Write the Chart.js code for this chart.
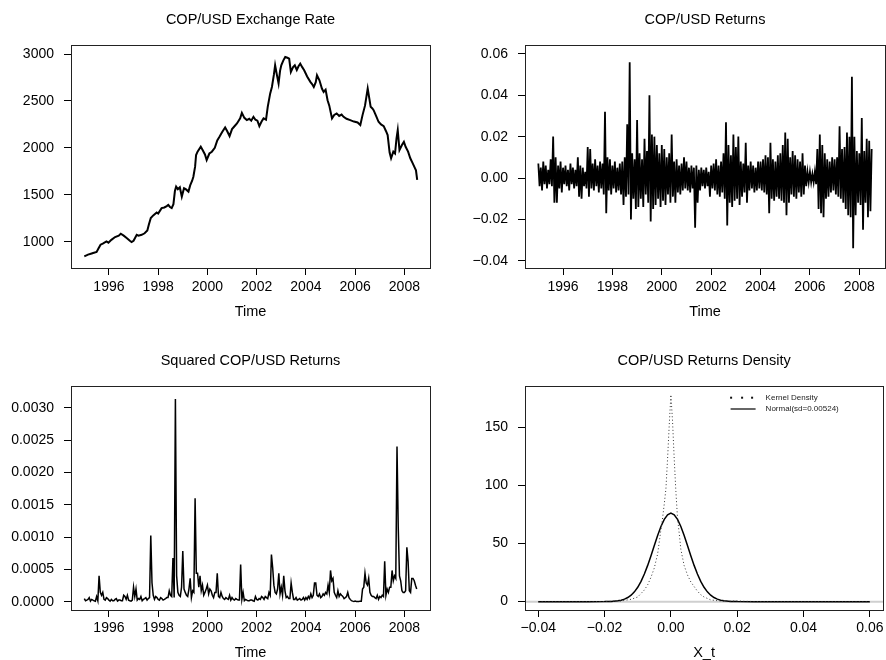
<!DOCTYPE html>
<html>
<head>
<meta charset="utf-8">
<script src="https://cdn.jsdelivr.net/npm/chart.js@4.4.0/dist/chart.umd.min.js"></script>
<style>
  html, body { margin: 0; padding: 0; background: #fff; overflow: hidden; }
  #wrap { position: relative; width: 886px; height: 660px; }
  canvas { position: absolute; }
</style>
</head>
<body>
<div id="wrap">
  <canvas id="rate" width="443" height="330" style="left:0;top:0"></canvas>
  <canvas id="ret" width="443" height="330" style="left:443px;top:0"></canvas>
  <canvas id="sq" width="443" height="330" style="left:0;top:330px"></canvas>
  <canvas id="dens" width="443" height="330" style="left:443px;top:330px"></canvas>
</div>
<script>
// exchange rate, COP per USD
const rateYears = [
  1995.00, 1995.15, 1995.30, 1995.36, 1995.50, 1995.58, 1995.66, 1995.75, 1995.90, 1995.98,
  1996.10, 1996.25, 1996.40, 1996.48, 1996.60, 1996.72, 1996.85, 1996.92, 1997.00, 1997.13,
  1997.20, 1997.33, 1997.45, 1997.56, 1997.62, 1997.70, 1997.80, 1997.94, 1998.00, 1998.14,
  1998.25, 1998.35, 1998.41, 1998.48, 1998.55, 1998.62, 1998.68, 1998.73, 1998.80, 1998.88,
  1998.96, 1999.05, 1999.12, 1999.23, 1999.30, 1999.38, 1999.43, 1999.50, 1999.54, 1999.60,
  1999.73, 1999.80, 1999.90, 1999.97, 2000.08, 2000.18, 2000.30, 2000.40, 2000.49, 2000.60,
  2000.72, 2000.80, 2000.90, 2001.00, 2001.10, 2001.20, 2001.33, 2001.40, 2001.50, 2001.60,
  2001.70, 2001.78, 2001.87, 2001.95, 2002.03, 2002.11, 2002.20, 2002.28, 2002.38, 2002.45,
  2002.55, 2002.62, 2002.70, 2002.75, 2002.82, 2002.89, 2002.95, 2003.00, 2003.08, 2003.16,
  2003.25, 2003.32, 2003.39, 2003.48, 2003.55, 2003.63, 2003.70, 2003.77, 2003.85, 2003.93,
  2004.05, 2004.18, 2004.25, 2004.32, 2004.40, 2004.45, 2004.55, 2004.65, 2004.72, 2004.80,
  2004.88, 2004.95, 2005.06, 2005.15, 2005.25, 2005.35, 2005.45, 2005.53, 2005.65, 2005.80,
  2005.95, 2006.10, 2006.21, 2006.30, 2006.40, 2006.51, 2006.58, 2006.63, 2006.70, 2006.75,
  2006.85, 2006.95, 2007.05, 2007.16, 2007.25, 2007.32, 2007.40, 2007.46, 2007.55, 2007.62,
  2007.68, 2007.73, 2007.80, 2007.90, 2007.98, 2008.05, 2008.15, 2008.24, 2008.33, 2008.40,
  2008.47, 2008.52
]
const rateValues = [
  844, 862, 875, 880, 891, 930, 968, 980, 1003, 990,
  1020, 1050, 1065, 1085, 1065, 1039, 1010, 997, 1010, 1074,
  1065, 1074, 1090, 1120, 1180, 1252, 1280, 1311, 1300, 1358,
  1365, 1380, 1393, 1370, 1358, 1400, 1540, 1587, 1560, 1580,
  1481, 1570, 1560, 1534, 1600, 1650, 1693, 1800, 1924, 1960,
  2012, 1980, 1930, 1871, 1940, 1959, 2000, 2080, 2118, 2170,
  2218, 2180, 2126, 2200, 2230, 2260, 2314, 2373, 2320, 2296,
  2310, 2290, 2331, 2300, 2290, 2232, 2280, 2314, 2300, 2437,
  2580, 2649, 2780, 2880, 2780, 2685, 2820, 2880, 2930, 2968,
  2960, 2951, 2809, 2860, 2880, 2830, 2870, 2898, 2860, 2827,
  2760, 2703, 2680, 2649, 2700, 2774, 2720, 2632, 2596, 2620,
  2508, 2450, 2314, 2350, 2367, 2340, 2355, 2331, 2310, 2296,
  2280, 2270, 2243, 2349, 2450, 2632, 2520, 2437, 2420, 2402,
  2340, 2278, 2250, 2232, 2180, 2136, 1950, 1889, 1959, 1940,
  2100, 2189, 1977, 2030, 2065, 2012, 1960, 1889, 1840, 1800,
  1760, 1659
]

// returns, sampled every 0.05 year from 1995.0
const retStart = 1995.0
const retStep = 0.05
const returns = [
  .007,-.004,.005,-.006,.008,-.003,.006,-.005,.004,-.003,.009,-.004,.020,-.012,.010,-.012,.006,-.005,.008,-.007,
  .005,-.003,.006,-.004,.004,-.006,.007,-.003,.005,-.005,.004,-.004,.010,-.009,.006,-.010,.005,-.004,.003,-.005,
  .015,-.009,.014,-.005,.007,-.006,.009,-.004,.006,-.007,.008,-.005,.007,-.008,.032,-.017,.010,-.006,.009,-.008,
  .006,-.005,.008,-.007,.005,-.006,.007,-.008,.008,-.013,.010,-.009,.026,-.008,.056,-.020,.012,-.010,.009,-.015,
  .028,-.014,.012,-.010,.009,-.014,.019,-.008,.013,-.012,.040,-.021,.021,-.015,.020,-.013,.016,-.010,.012,-.014,
  .016,-.011,.014,-.013,.010,-.008,.012,-.012,.021,-.009,.008,-.012,.009,-.007,.006,-.008,.007,-.006,.010,-.005,
  .008,-.006,.005,-.007,.006,-.005,.005,-.024,.006,-.012,.004,-.006,.005,-.004,.004,-.005,.005,-.004,.003,-.009,
  .006,-.005,.007,-.006,.009,-.008,.006,-.009,.008,-.007,.012,-.010,.027,-.023,.016,-.012,.011,-.014,.021,-.011,
  .015,-.010,.020,-.013,.008,-.009,.007,-.007,.017,-.012,.006,-.006,.008,-.005,.006,-.007,.005,-.006,.008,-.005,
  .008,-.006,.009,-.007,.011,-.008,.010,-.017,.017,-.010,.009,-.011,.008,-.009,.011,-.010,.012,-.011,.016,-.012,
  .022,-.018,.019,-.012,.010,-.008,.013,-.009,.011,-.010,.009,-.007,.008,-.009,.012,-.008,.006,-.004,.003,-.002,
  .003,-.002,.002,-.002,.003,-.003,.014,-.015,.021,-.017,.016,-.019,.012,-.010,.009,-.009,.008,-.007,.010,-.006,
  .009,-.008,.010,-.009,.025,-.010,.014,-.012,.015,-.015,.022,-.018,.020,-.019,.049,-.034,.020,-.018,.013,-.012,
  .012,-.013,.029,-.025,.013,-.012,.019,-.019,.018,-.016,.014
]

// density estimates of the returns
const kdeX = [-0.04, -0.03, -0.02, -0.015, -0.012, -0.010, -0.009, -0.008, -0.007, -0.006, -0.005, -0.004,
  -0.003, -0.0025, -0.002, -0.0015, -0.001, -0.0005, 0, 0.0005, 0.001, 0.0015, 0.002, 0.0025, 0.003,
  0.004, 0.005, 0.006, 0.007, 0.008, 0.009, 0.010, 0.012, 0.015, 0.018, 0.020, 0.022, 0.025, 0.03, 0.06]
const kdeY = [0, 0, 0.1, 0.6, 2, 4, 7, 10, 14.5, 21, 29, 41,
  62, 72, 84, 97, 123, 152, 178, 155, 123, 95, 72, 59, 45,
  31, 23, 17, 13, 9, 6, 4, 1.5, 0.5, 0.4, 0.6, 0.3, 0.1, 0, 0]

// normal density, mean 0, sd 0.00524
const normX = [-0.04, -0.03, -0.025, -0.02, -0.018, -0.016, -0.015, -0.014, -0.013, -0.012, -0.011,
  -0.010, -0.009, -0.008, -0.007, -0.006, -0.005, -0.004, -0.003, -0.002, -0.001, 0,
  0.001, 0.002, 0.003, 0.004, 0.005, 0.006, 0.007, 0.008, 0.009, 0.010,
  0.011, 0.012, 0.013, 0.014, 0.015, 0.016, 0.018, 0.02, 0.025, 0.03, 0.06]
const normY = [0, 0, 0, 0.05, 0.21, 0.72, 1.27, 2.15, 3.51, 5.53, 8.40,
  12.32, 17.42, 23.74, 31.19, 39.52, 48.29, 56.89, 64.62, 70.78, 74.76, 76.13,
  74.76, 70.78, 64.62, 56.89, 48.29, 39.52, 31.19, 23.74, 17.42, 12.32,
  8.40, 5.53, 3.51, 2.15, 1.27, 0.72, 0.21, 0.05, 0, 0, 0]

const yearTicks = [1996, 1998, 2000, 2002, 2004, 2006, 2008]
const rateTicks = [1000, 1500, 2000, 2500, 3000]
const retTicks = [-0.04, -0.02, 0, 0.02, 0.04, 0.06]
const sqTicks = [0, 0.0005, 0.001, 0.0015, 0.002, 0.0025, 0.003]
const densXTicks = [-0.04, -0.02, 0, 0.02, 0.04, 0.06]
const densYTicks = [0, 50, 100, 150]

const FONT = "'Liberation Sans', Arial, Helvetica, sans-serif"
const W = 443, H = 330

const minus = (v, d) => (v < 0 ? "\u2212" : "") + Math.abs(v).toFixed(d)

// box round the plot region
const frame = {
  id: "frame",
  afterDraw(chart) {
    const { ctx, chartArea: a } = chart
    ctx.save()
    ctx.strokeStyle = "#222"
    ctx.lineWidth = 1
    ctx.strokeRect(Math.round(a.left) + 0.5, Math.round(a.top) + 0.5, Math.round(a.width), Math.round(a.height))
    ctx.restore()
  }
}

// main title centred over the plot region
const panelTitle = {
  id: "panelTitle",
  afterDraw(chart, args, opts) {
    const { ctx, chartArea: a } = chart
    ctx.save()
    ctx.font = "14.5px " + FONT
    ctx.fillStyle = "#000"
    ctx.textAlign = "center"
    ctx.textBaseline = "middle"
    ctx.fillText(opts.text, (a.left + a.right) / 2, opts.y)
    ctx.restore()
  }
}

function axis(o, horizontal, box) {
  return {
    type: "linear",
    min: o.min,
    max: o.max,
    afterBuildTicks: s => { s.ticks = o.ticks.map(v => ({ value: v })) },
    afterFit: s => {
      if (horizontal) s.height = H - box.bottom
      else s.width = box.left
    },
    grid: { drawOnChartArea: false, drawTicks: true, tickLength: 7, color: "#000", lineWidth: 1 },
    border: { display: false },
    ticks: {
      color: "#000",
      font: { family: FONT, size: 14 },
      padding: o.pad,
      maxRotation: 0,
      autoSkip: false,
      callback: o.fmt
    },
    title: o.title ? {
      display: true,
      text: o.title,
      color: "#000",
      font: { family: FONT, size: 14.5 },
      padding: { top: 0, bottom: o.titlePad }
    } : { display: false }
  }
}

function panel(id, box, title, datasets, x, y, extra) {
  return new Chart(document.getElementById(id), {
    type: "line",
    data: { datasets },
    options: {
      responsive: false,
      animation: false,
      events: [],
      layout: { padding: { left: 0, top: box.top, right: W - box.right, bottom: 0 } },
      plugins: {
        legend: { display: false },
        tooltip: { enabled: false },
        panelTitle: title
      },
      scales: { x: axis(x, true, box), y: axis(y, false, box) }
    },
    plugins: [frame, panelTitle].concat(extra || [])
  })
}

const retTime = returns.map((r, i) => retStart + i * retStep)
const line = (xs, ys, w) => ({
  data: xs.map((t, i) => ({ x: t, y: ys[i] })),
  borderColor: "#000",
  borderWidth: w,
  pointRadius: 0,
  tension: 0
})

const timeAxis = (pad, titlePad) => ({
  min: 1994.46, max: 2009.04, ticks: yearTicks, fmt: v => String(v),
  pad, title: "Time", titlePad
})

// top left: exchange rate
panel("rate", { left: 71, right: 430, top: 45, bottom: 268 },
  { text: "COP/USD Exchange Rate", y: 20 },
  [line(rateYears, rateValues, 2)],
  timeAxis(4, 9),
  { min: 720, max: 3096, ticks: rateTicks, fmt: v => String(v), pad: 10 })

// top right: returns
panel("ret", { left: 82, right: 442, top: 45, bottom: 268 },
  { text: "COP/USD Returns", y: 20 },
  [line(retTime, returns, 1.8)],
  timeAxis(4, 9),
  { min: -0.0435, max: 0.0643, ticks: retTicks, fmt: v => minus(v, 2), pad: 10 })

// bottom left: squared returns
panel("sq", { left: 71, right: 430, top: 56, bottom: 280 },
  { text: "Squared COP/USD Returns", y: 30.7 },
  [line(retTime, returns.map(r => r * r), 1.5)],
  timeAxis(2.5, -1.4),
  { min: -0.000128, max: 0.003337, ticks: sqTicks, fmt: v => v.toFixed(4), pad: 10 })

// grey zero line under the densities
const zeroLine = {
  id: "zeroLine",
  beforeDatasetsDraw(chart) {
    const { ctx, chartArea: a, scales } = chart
    const y0 = scales.y.getPixelForValue(0)
    ctx.save()
    ctx.strokeStyle = "#cfcfcf"
    ctx.lineWidth = 2
    ctx.beginPath()
    ctx.moveTo(a.left, y0)
    ctx.lineTo(a.right, y0)
    ctx.stroke()
    ctx.restore()
  }
}

// legend in the top right corner, no box
const densLegend = {
  id: "densLegend",
  afterDraw(chart) {
    const { ctx, chartArea: a } = chart
    const x0 = a.right - 152
    const y1 = a.top + 11.7
    const y2 = a.top + 23
    ctx.save()
    ctx.fillStyle = "#111"
    ;[0, 11, 21].forEach(dx => ctx.fillRect(x0 + dx - 1, y1 - 1, 2, 2))
    ctx.strokeStyle = "#333"
    ctx.lineWidth = 1.5
    ctx.beginPath()
    ctx.moveTo(x0 - 0.5, y2)
    ctx.lineTo(x0 + 24.5, y2)
    ctx.stroke()
    ctx.font = "8px " + FONT
    ctx.fillStyle = "#222"
    ctx.textAlign = "left"
    ctx.textBaseline = "middle"
    ctx.fillText("Kernel Density", x0 + 34.5, y1)
    ctx.fillText("Normal(sd=0.00524)", x0 + 34.5, y2)
    ctx.restore()
  }
}

// bottom right: density of returns
const kde = line(kdeX, kdeY, 1)
kde.borderColor = "#333"
kde.borderDash = [1, 2.4]
panel("dens", { left: 82, right: 442, top: 56, bottom: 280 },
  { text: "COP/USD Returns Density", y: 30.7 },
  [kde, line(normX, normY, 1.5)],
  { min: -0.044, max: 0.064, ticks: densXTicks, fmt: v => minus(v, 2), pad: 2.5, title: "X_t", titlePad: -1.4 },
  { min: -7.2, max: 185.5, ticks: densYTicks, fmt: v => String(v), pad: 10 },
  [zeroLine, densLegend])
</script>
</body>
</html>
